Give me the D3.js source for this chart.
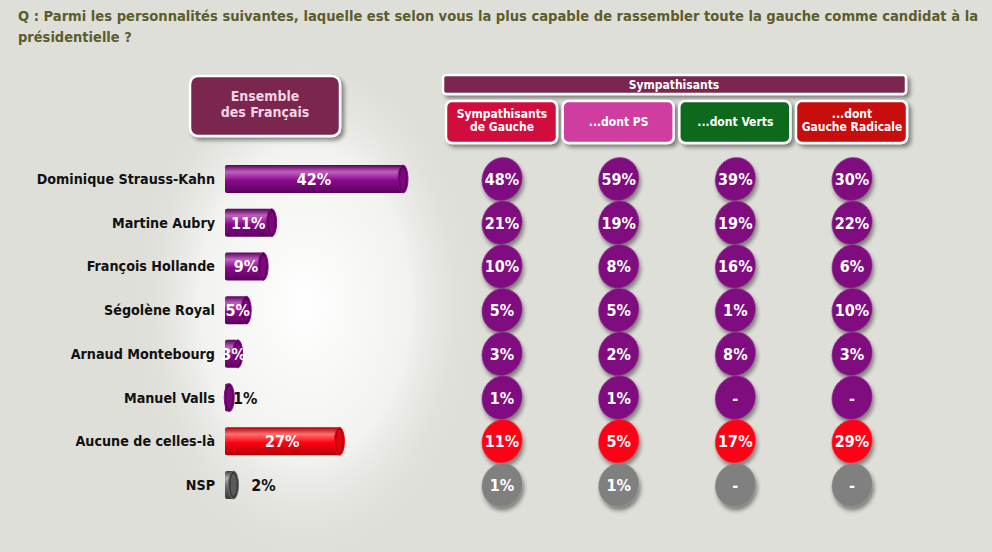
<!DOCTYPE html>
<html><head><meta charset="utf-8">
<script src="https://cdnjs.cloudflare.com/ajax/libs/d3/7.8.5/d3.min.js"></script>
<style>body{margin:0;background:#dfdfda;}svg{display:block;}</style>
</head><body>
<script>
const names = ["Dominique Strauss-Kahn","Martine Aubry","François Hollande","Ségolène Royal","Arnaud Montebourg","Manuel Valls","Aucune de celles-là","NSP"];
const ensemble = [42,11,9,5,3,1,27,2];
const groups = ["Sympathisants de Gauche","...dont PS","...dont Verts","...dont Gauche Radicale"];
const sympGauche = [48,21,10,5,3,1,11,1];
const dontPS = [59,19,8,5,2,1,5,1];
const dontVerts = [39,19,16,1,8,null,17,null];
const dontGR = [30,22,6,10,3,null,29,null];
const rowKind = ["p","p","p","p","p","p","r","g"];

const W=992,H=552;
const svg=d3.select("body").append("svg").attr("width",W).attr("height",H);
const defs=svg.append("defs");
const FONT="'DejaVu Sans Condensed','DejaVu Sans',sans-serif";

const sh=defs.append("filter").attr("id","sh").attr("x","-30%").attr("y","-30%").attr("width","170%").attr("height","170%");
sh.append("feGaussianBlur").attr("in","SourceAlpha").attr("stdDeviation",2.2);
sh.append("feOffset").attr("dx",3).attr("dy",3).attr("result","o");
sh.append("feComponentTransfer").append("feFuncA").attr("type","linear").attr("slope",0.45);
const m=sh.append("feMerge");m.append("feMergeNode");m.append("feMergeNode").attr("in","SourceGraphic");

const rg=defs.append("radialGradient").attr("id","glow").attr("cx","0.5").attr("cy","0.45").attr("r","0.5");
rg.append("stop").attr("offset","0").attr("stop-color","#ffffff").attr("stop-opacity",1);
rg.append("stop").attr("offset","0.6").attr("stop-color","#f7f7f5").attr("stop-opacity",0.8);
rg.append("stop").attr("offset","1").attr("stop-color","#dfdfda").attr("stop-opacity",0);

const palette={p:["#c060c0","#8a0a8c","#5a005c"],r:["#ff7070","#ff0010","#b00008"],g:["#b0b0b0","#6a6a6a","#3a3a3a"]};
Object.entries(palette).forEach(([k,c])=>{
  const g=defs.append("linearGradient").attr("id","bar"+k).attr("x1",0).attr("x2",0).attr("y1",0).attr("y2",1);
  g.append("stop").attr("offset","0").attr("stop-color",c[2]);
  g.append("stop").attr("offset","0.25").attr("stop-color",c[0]);
  g.append("stop").attr("offset","0.55").attr("stop-color",c[1]);
  g.append("stop").attr("offset","1").attr("stop-color",c[2]);
});
const dotCol={p:"#800a80",r:"#ff0012",g:"#808080"};

svg.append("rect").attr("width",W).attr("height",H).attr("fill","#dfdfda");
svg.append("ellipse").attr("cx",305).attr("cy",330).attr("rx",175).attr("ry",260).attr("fill","url(#glow)");

const title=svg.append("text").attr("font-family",FONT).attr("font-weight","bold").attr("font-size",14.5).attr("fill","#5c5c2c");
title.append("tspan").attr("x",18).attr("y",21).attr("textLength",960).attr("lengthAdjust","spacingAndGlyphs").text("Q : Parmi les personnalités suivantes, laquelle est selon vous la plus capable de rassembler toute la gauche comme candidat à la");
title.append("tspan").attr("x",18).attr("y",42).text("présidentielle ?");

function box(x,y,w,h,fill,r){
  return svg.append("rect").attr("x",x).attr("y",y).attr("width",w).attr("height",h).attr("rx",r).attr("fill",fill)
   .attr("stroke","#ffffff").attr("stroke-width",2.5).attr("filter","url(#sh)");
}
box(190,76,150,60,"#7a2850",8);
svg.append("text").attr("x",265).attr("y",101).attr("text-anchor","middle").attr("font-family",FONT).attr("font-weight","bold").attr("font-size",14).attr("fill","#f2d4e4")
  .selectAll("tspan").data(["Ensemble","des Français"]).join("tspan").attr("x",265).attr("dy",(d,i)=>i?16:0).text(d=>d);

box(443,75,463,19,"#7a2850",3);
svg.append("text").attr("x",674).attr("y",89).attr("text-anchor","middle").attr("font-family",FONT).attr("font-weight","bold").attr("font-size",12).attr("fill","#fff").text("Sympathisants");

const colX=d3.scalePoint().domain(groups).range([502,852]);
const hdrFill=["#d0103c","#d03ca0","#0a6a1c","#c80810"];
const hdrLines=[["Sympathisants","de Gauche"],["...dont PS"],["...dont Verts"],["...dont","Gauche Radicale"]];
groups.forEach((g,i)=>{
  const cx=colX(g);
  box(cx-56,101,111,42,hdrFill[i],6);
  const L=hdrLines[i];
  L.forEach((s,j)=>svg.append("text").attr("text-anchor","middle").attr("font-family",FONT).attr("font-weight","bold").attr("font-size",12).attr("fill","#fff")
    .attr("x",cx).attr("y",(L.length==1?126:117.5)+j*13.5).text(s));
});

const y=d3.scalePoint().domain(names).range([179,485]);
const x=d3.scaleLinear().domain([0,42]).range([225,403]);
const bh=28;
names.forEach((n,i)=>{
  const cy=y(n), k=rowKind[i], v=ensemble[i];
  svg.append("text").attr("x",215).attr("y",cy+5).attr("text-anchor","end").attr("font-family",FONT).attr("font-weight","bold").attr("font-size",14.2).attr("fill","#111").text(n);
  const x1=x(v);
  svg.append("rect").attr("x",225).attr("y",cy-bh/2).attr("width",x1-225).attr("height",bh).attr("rx",2).attr("fill","url(#bar"+k+")");
  svg.append("ellipse").attr("cx",x1).attr("cy",cy).attr("rx",5).attr("ry",bh/2).attr("fill",palette[k][2]).attr("stroke",palette[k][1]).attr("stroke-width",1);
  svg.append("ellipse").attr("cx",x1).attr("cy",cy).attr("rx",3).attr("ry",bh/2-3).attr("fill",palette[k][1]).attr("opacity",0.7);
  const small=v<=2;
  svg.append("text").attr("x",small?x1+(k=="g"?30:16):(225+x1)/2+ (v<10?2:0)).attr("y",cy+6).attr("text-anchor","middle")
    .attr("font-family",FONT).attr("font-weight","bold").attr("font-size",16).attr("fill",small?"#111":"#fff").text(v+"%");
  [sympGauche,dontPS,dontVerts,dontGR].forEach((arr,j)=>{
    const cx=colX(groups[j]), val=arr[i];
    svg.append("ellipse").attr("cx",cx).attr("cy",cy).attr("rx",20).attr("ry",22)
      .attr("transform",`rotate(20,${cx},${cy})`).attr("fill",dotCol[k]).attr("filter","url(#sh)");
    svg.append("text").attr("x",cx).attr("y",cy+6).attr("text-anchor","middle").attr("font-family",FONT).attr("font-weight","bold")
      .attr("font-size",16).attr("fill","#fff").text(val==null?"-":val+"%");
  });
});
</script>
</body></html>
